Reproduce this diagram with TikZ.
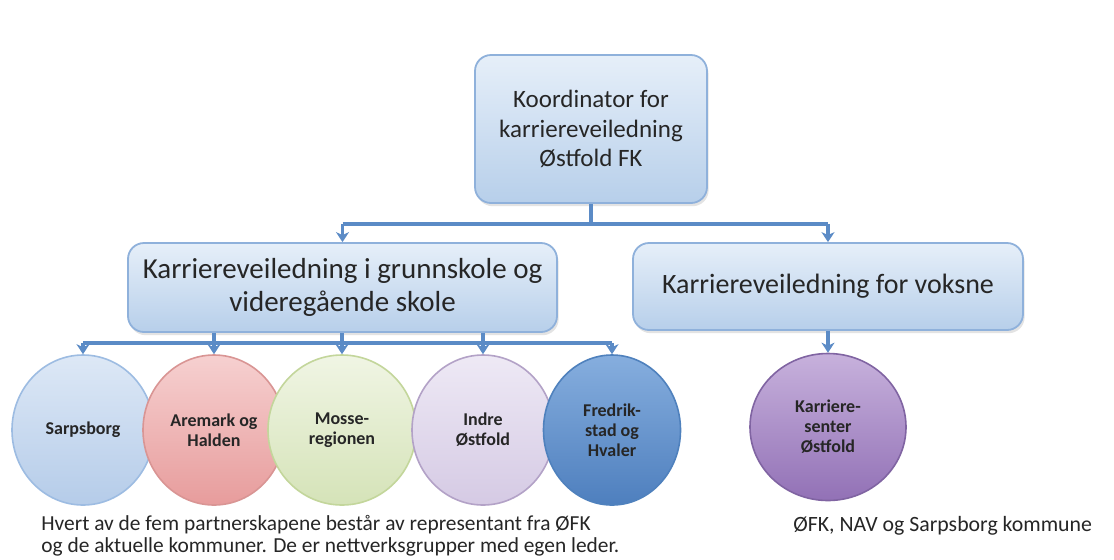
\documentclass[tikz,border=0pt]{standalone}
\usepackage{fontspec}
\setmainfont{Carlito}
\usetikzlibrary{arrows.meta,shadows,shapes.geometric}
\definecolor{connc}{HTML}{5B8BC6}
\definecolor{boxline}{HTML}{8FB1DB}
\definecolor{boxtop}{HTML}{E6EFF9}
\definecolor{boxbot}{HTML}{B7CFEA}
\definecolor{txt}{HTML}{262626}
\definecolor{sarpL}{HTML}{9DBCE2}\definecolor{sarpT}{HTML}{DDE8F6}\definecolor{sarpB}{HTML}{B5CCE9}
\definecolor{aremL}{HTML}{D99594}\definecolor{aremT}{HTML}{F6D0D0}\definecolor{aremB}{HTML}{E79C9C}
\definecolor{mosL}{HTML}{C3D69B}\definecolor{mosT}{HTML}{F0F5E4}\definecolor{mosB}{HTML}{D5E3B8}
\definecolor{indL}{HTML}{B3A2C7}\definecolor{indT}{HTML}{EEE9F5}\definecolor{indB}{HTML}{D5CAE4}
\definecolor{freL}{HTML}{4F81BD}\definecolor{freT}{HTML}{86AEDE}\definecolor{freB}{HTML}{4E7FBE}
\definecolor{senL}{HTML}{8064A2}\definecolor{senT}{HTML}{C7B1DC}\definecolor{senB}{HTML}{9271B6}
\begin{document}
\begin{tikzpicture}[x=0.5pt,y=-0.5pt,
  box/.style={rounded corners=8pt, draw=boxline, line width=0.9pt, top color=boxtop, bottom color=boxbot,
    align=center, text=txt, inner sep=0pt,
    drop shadow={opacity=0.22, shadow xshift=0.8pt, shadow yshift=-1.6pt}},
  circ/.style={ellipse, draw=#1L, line width=0.8pt, top color=#1T, bottom color=#1B,
    align=center, text=txt, inner sep=0pt, minimum width=71pt, minimum height=75pt,
    font=\fontsize{9}{10}\selectfont\bfseries},
  conn/.style={draw=connc, line width=1.8pt},
  arr/.style={conn, -{Stealth[length=5pt,width=6.5pt,inset=1.5pt]}},
  caption/.style={text=txt, inner sep=0pt}
]
\useasboundingbox[fill=white] (0,0) rectangle (1114,559);

% boxes
\node[box, minimum width=116pt, minimum height=74pt, font=\fontsize{12.5}{14.8}\selectfont]
  (koord) at (591,129) {Koordinator for\\karriereveiledning\\Østfold FK};
\node[box, minimum width=214.5pt, minimum height=44.5pt, font=\fontsize{14.5}{16.5}\selectfont]
  (grunn) at (342.5,287.5) {Karriereveiledning i grunnskole og\\videregående skole};
\node[box, minimum width=195pt, minimum height=43.5pt, font=\fontsize{14}{16.5}\selectfont]
  (voksne) at (828,286.5) {Karriereveiledning for voksne};

% circles
\node[circ=sarp] (sarp) at (83,430) {Sarpsborg};
\node[circ=arem] (arem) at (214,430) {Aremark og\\Halden};
\node[circ=mos, minimum width=74pt] (mosse) at (342,430) {Mosse-\\regionen};
\node[circ=ind] (indre) at (483,430) {Indre\\Østfold};
\node[circ=fre, minimum width=68.5pt] (fred) at (612,430) {Fredrik-\\stad og\\Hvaler};
\node[circ=sen, minimum width=78pt, minimum height=73.5pt] (senter) at (828,427) {Karriere-\\senter\\Østfold};

% connectors top level
\draw[conn] (koord.south) -- ++(0,20) coordinate (j1);
\draw[conn] (j1 -| grunn.north) -- (j1 -| voksne.north);
\draw[arr] (j1 -| grunn.north) -- (grunn.north);
\draw[arr] (j1 -| voksne.north) -- (voksne.north);
\draw[arr] (voksne.south) -- (senter.north);

% bus to circles
\coordinate (bus) at (83,343);
\draw[conn] (grunn.south -| arem) -- (bus -| arem);
\draw[conn] (grunn.south -| mosse) -- (bus -| mosse);
\draw[conn] (grunn.south -| indre) -- (bus -| indre);
\draw[conn] (bus -| sarp) -- (bus -| fred);
\foreach \c in {sarp,arem,mosse,indre,fred}{
  \draw[arr] (bus -| \c) -- (\c.north);
}

% captions
\node[caption, anchor=base west, font=\fontsize{10.7}{11}\selectfont]
  (note) at (41,530) {Hvert av de fem partnerskapene består av representant fra ØFK};
\node[caption, anchor=base west, font=\fontsize{10.7}{11}\selectfont]
  (note1) at (41,552) {og de aktuelle kommuner. De er nettverksgrupper med egen leder.};
\node[caption, anchor=base west, font=\fontsize{10.9}{12}\selectfont]
  (note2) at (793,531) {ØFK, NAV og Sarpsborg kommune};
\end{tikzpicture}
\end{document}
